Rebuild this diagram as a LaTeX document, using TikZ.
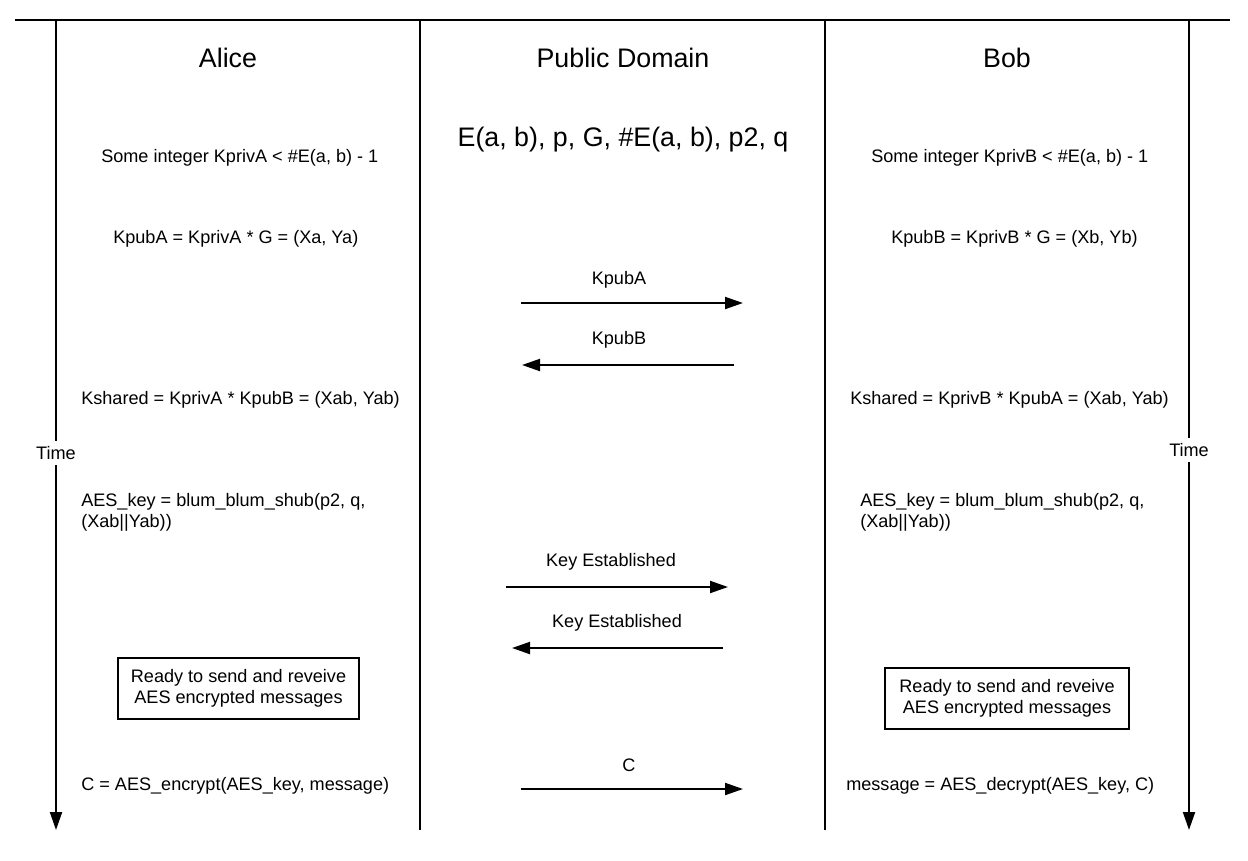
\documentclass[tikz,border=0pt]{standalone}
\usepackage{fontspec}
\setmainfont{Liberation Sans}
\usetikzlibrary{positioning,arrows.meta}

\begin{document}
\begin{tikzpicture}[x=0.75pt,y=-0.75pt,
        txt/.style={font=\fontsize{13.57}{15.8}\selectfont, inner sep=0pt, align=left, yshift=-1.5pt},
        head/.style={font=\fontsize{20.1}{24}\selectfont, inner sep=0pt},
        lane/.style={line width=1.5pt},
        msg/.style={line width=1.5pt, -{Triangle[length=13.5pt,width=9pt]}},
        readybox/.style={draw, line width=1.2pt, rectangle, align=center, font=\fontsize{13.57}{15.8}\selectfont, minimum height=45.75pt, inner sep=0pt}]
            \useasboundingbox (0,0) rectangle (1248,860);

            \coordinate (top-l) at (15,20);
            \coordinate (top-r) at (1230,20);
            \draw[lane](top-l)--(top-r);
            \coordinate (lane1-top) at (420,20);
            \coordinate (lane1-bot) at (420,830);
            \coordinate (lane2-top) at (825,20);
            \coordinate (lane2-bot) at (825,830);
            \draw[lane](lane1-top)--(lane1-bot);
            \draw[lane](lane2-top)--(lane2-bot);

            \coordinate (timeA-top) at (56,20);
            \coordinate (timeA-bot) at (56,830);
            \draw[msg](timeA-top)--(timeA-bot);
            \node[txt, fill=white, inner sep=4pt] (timeA) at (56,451) {Time};
            \coordinate (timeB-top) at (1189,20);
            \coordinate (timeB-bot) at (1189,830);
            \draw[msg](timeB-top)--(timeB-bot);
            \node[txt, fill=white, inner sep=4pt] (timeB) at (1189,448) {Time};

            \node[head] (alice) at (228,58) {Alice};
            \node[head] (public) at (623,58) {Public Domain};
            \node[head] (bob) at (1007,58) {Bob};
            \node[head] (params) at (623,140) {E(a, b), p, G, \#E(a, b), p2, q};

            \node[txt, anchor=west] (privA) at (101,156) {Some integer KprivA < \#E(a, b) - 1};
            \node[txt, anchor=west] (pubA) at (113,237) {KpubA = KprivA * G = (Xa, Ya)};
            \node[txt, anchor=west] (privB) at (871,156) {Some integer KprivB < \#E(a, b) - 1};
            \node[txt, anchor=west] (pubB) at (891,237) {KpubB = KprivB * G = (Xb, Yb)};

            \node[txt] (kpubA-lbl) at (619,278) {KpubA};
            \coordinate (kpubA-s) at (521,303);
            \coordinate (kpubA-e) at (743,303);
            \draw[msg](kpubA-s)--(kpubA-e);
            \node[txt] (kpubB-lbl) at (619,338) {KpubB};
            \coordinate (kpubB-s) at (734,365);
            \coordinate (kpubB-e) at (522,365);
            \draw[msg](kpubB-s)--(kpubB-e);

            \node[txt, anchor=west] (sharedA) at (81,398) {Kshared = KprivA * KpubB = (Xab, Yab)};
            \node[txt, anchor=west] (sharedB) at (850,398) {Kshared = KprivB * KpubA = (Xab, Yab)};

            \node[txt, anchor=west] (aesA) at (81,510) {AES\_key = blum\_blum\_shub(p2, q,\\(Xab||Yab))};
            \node[txt, anchor=west] (aesB) at (860,510) {AES\_key = blum\_blum\_shub(p2, q,\\(Xab||Yab))};

            \node[txt] (estA-lbl) at (611,560) {Key Established};
            \coordinate (estA-s) at (506,587);
            \coordinate (estA-e) at (728,587);
            \draw[msg](estA-s)--(estA-e);
            \node[txt] (estB-lbl) at (617,621) {Key Established};
            \coordinate (estB-s) at (723,648);
            \coordinate (estB-e) at (512,648);
            \draw[msg](estB-s)--(estB-e);

            \node[readybox, minimum width=180.75pt] (readyA) at (238.5,688.5) {Ready to send and reveive\\AES encrypted messages};
            \node[readybox, minimum width=183pt] (readyB) at (1007,698.5) {Ready to send and reveive\\AES encrypted messages};

            \node[txt, anchor=west] (encA) at (81,784) {C = AES\_encrypt(AES\_key, message)};
            \node[txt, anchor=west] (decB) at (846,784) {message = AES\_decrypt(AES\_key, C)};
            \node[txt] (c-lbl) at (629,763) {C};
            \coordinate (c-s) at (521,789);
            \coordinate (c-e) at (743,789);
            \draw[msg](c-s)--(c-e);
        \end{tikzpicture}
\end{document}
